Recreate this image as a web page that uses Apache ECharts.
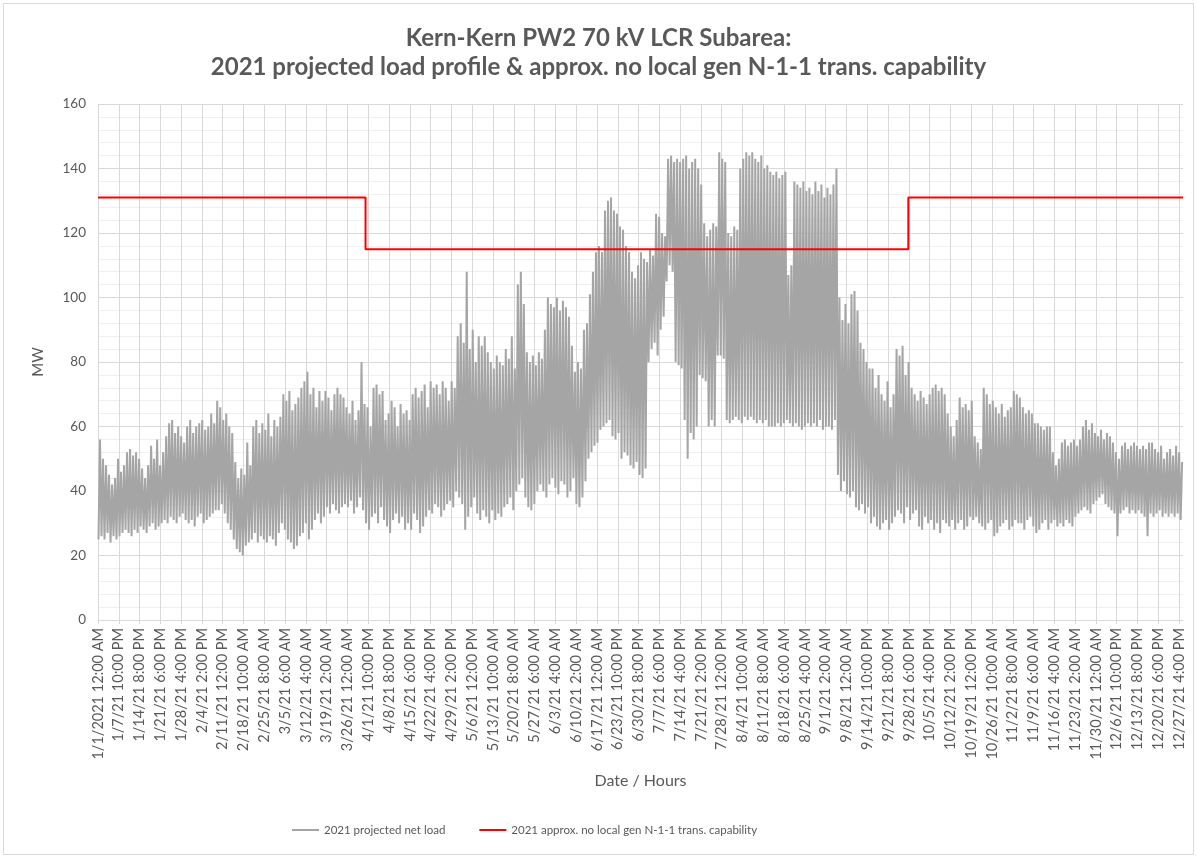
<!DOCTYPE html>
<html>
<head>
<meta charset="utf-8">
<script src="https://cdn.jsdelivr.net/npm/echarts@6/dist/echarts.min.js"></script>
<style>
  html, body { margin: 0; padding: 0; background: #fff; }
  #frame { position: absolute; left: 3px; top: 3px; width: 1191px; height: 852px; border: 1px solid #d9d9d9; box-sizing: border-box; }
  #chart { position: absolute; left: 0; top: 0; width: 1197px; height: 858px; }
</style>
</head>
<body>
<div id="frame"></div>
<div id="chart"></div>
<script>
// Daily peak and trough of the 2021 projected net load (MW), one value per day of the series, from 1/1 onward
const dailyPeak = [
  56,50,48,45,42,44,50,46,48,52, 53,51,52,50,47,44,48,54,50,56, 48,52,57,61,62,58,60,57,55,60,
  62,58,60,61,62,59,60,64,61,68, 66,62,64,60,58, 49,44,47,45,55,48, 60,62,58,61,59, 64,57,
  62,60,63, 70,68,71,65,67,69,72, 74,77,70,72,66,71,68, 71,69,65,70,72,70,69, 66,64,68,62,65,80,67,
  66,60,72,73,70,71,62, 64,68,66,60,67,64,65, 62,70,72,69,71,73,66, 74,72,73,70,74,72,68, 74,72,
  88,92, 86,108,84,90,80,88,85, 88,83,80,78,82,80, 79,84,81,88,78,104,108, 98,83,80,82,79,83,81, 90,
  100,98,97,100,96,99, 97,94,85,77,80,78, 90,92,101,108,114,116,114, 127,130,131,127,126,122, 121,116,114,108,106,
  110,114, 112,111,115,113, 126,125,120,119, 143,144,142,143, 142,143,144,140,142,143,140, 135,123,119,121, 123,122, 145,143,142, 120,
  119,122,121, 140,143,145,144,145,143,142,144, 140,141,139,138,139,137,138,139, 107,110, 136,135,134,136,133,134,132, 136,133,
  135,131,134, 132,135,140, 100,93,98,92, 101,102,96, 86,84,80,78, 78,72,76,70,68,74,66,70, 84,82,85,76,80,
  72,70,68,71,69,67,70,72, 73,71,72,70, 64,60,57,62, 69,66,67,65,68, 57,55,53, 72,70,67,68, 66,64,67,
  63,65,66, 71,70,69, 66,64,65,64,61, 61,60,59,60,60, 52,48,50, 55,56,54,55,56,54,56, 60,62,59,
  61, 58,57,59,56,58,57,55, 52,50, 54,55,53,54,55,54,53, 54,53,55, 55,53,52,54,50,52,53,51,54,52,49
];
const dailyLow = [
  25,26,25,27,24,26,25,26,27,28, 27,26,28,27,29,28,27,29,30,28, 29,30,31,30,32,31,30,32,33,31,
  30,31,29,32,33,30,31,32,33,34, 34,36,33,30,28, 25,22,21,20,23,24, 25,27,24,26,25, 24,26,
  25,23,27, 30,28,25,24,22,23,26, 27,30,25,28,31,33,30, 32,35,33,36,34,33,35, 36,35,37,33,35,38,34,
  30,28,32,33,30,35,31, 29,27,31,33,30,32,28, 30,28,33,31,27,29,32, 34,33,36,35,32,34,36, 37,35,
  40,38, 36,28,32,35,38,33,31, 34,32,30,34,31,33, 32,35,36,38,34,40,42, 44,38,35,34,36,40,42, 40,
  38,42,44,41,39,43, 42,38,40,44,36,35, 38,43,50,52,54,55,59, 60,61,62,57,56,58, 50,52,51,48,47,
  49,45, 44,47,80,84, 86,82,90,94, 105,110,108,80, 79,78,62,50,58,56,60, 76,75,74,60, 62,60, 82,82,81, 62,
  61,62,63, 62,61,63,62,63,62,61,62, 61,62,60,60,60,61,60,61, 62,61, 60,61,60,59,60,61,60, 61,60,
  62,59,60, 60,59,62, 45,40,43,39, 38,40,35, 34,36,33,35, 30,32,29,28,30,31,28,30, 32,34,33,30,35,
  31,33,34,29,28,32,30,31, 28,30,27,31, 30,29,31,28, 30,31,28,29,32, 31,32,30, 29,28,30,31, 26,27,29,
  30,31,28, 29,31,30, 30,28,31,32,29, 27,28,30,31,28, 30,31,29, 30,29,31,30,29,32,33, 34,35,34,
  33, 36,37,38,39,36,35,34, 33,26, 33,34,35,33,34,33,34, 33,32,26, 33,32,33,34,32,33,32,33,32,33,31
];
// Hour of day at which the trough and the peak occur
const lowHour = 4;
const peakHour = 16;

// Transmission capability (MW) and the hour indices where each level starts/ends
const capBreakHours = [0, 2136, 6470, 8663];
const capValues = [131, 115, 131];

const seriesNames = ['2021 projected net load', '2021 approx. no local gen N-1-1 trans. capability'];
const yTicks = { min: 0, max: 160, interval: 20 };
const labelEvery = 166; // hours between category labels

// Hourly categories. The series has no row for 2/28, so later dates run one day further.
const hourCount = dailyPeak.length * 24;
const skippedDay = 58; // day-of-year index of 2/28
function hourLabel(h) {
  let day = Math.floor(h / 24);
  if (day >= skippedDay) day += 1;
  const d = new Date(Date.UTC(2021, 0, 1) + (day * 24 + (h % 24)) * 3600000);
  const m = d.getUTCMonth() + 1, dd = d.getUTCDate();
  let hh = d.getUTCHours();
  const ampm = hh < 12 ? 'AM' : 'PM';
  hh = hh % 12; if (hh === 0) hh = 12;
  const yr = h === 0 ? '2021' : '21';
  return m + '/' + dd + '/' + yr + ' ' + hh + ':00 ' + ampm;
}
const hours = [];
for (let h = 0; h < hourCount; h++) hours.push(hourLabel(h));

const loadPoints = [];
for (let d = 0; d < dailyPeak.length; d++) {
  loadPoints.push([d * 24 + lowHour, dailyLow[d]]);
  loadPoints.push([d * 24 + peakHour, dailyPeak[d]]);
}
const capPoints = [];
for (let i = 0; i < capValues.length; i++) {
  capPoints.push([capBreakHours[i], capValues[i]]);
  capPoints.push([capBreakHours[i + 1], capValues[i]]);
}

const font = 'Lato, "Open Sans", sans-serif';
const txt = '#595959';
const grid = '#d9d9d9';
const chart = echarts.init(document.getElementById('chart'), null, { renderer: 'canvas' });
chart.setOption({
  animation: false,
  title: {
    text: 'Kern-Kern PW2 70 kV LCR Subarea:\n2021 projected load profile & approx. no local gen N-1-1 trans. capability',
    left: 'center', top: 19,
    textStyle: { fontFamily: font, fontSize: 24, fontWeight: 'bold', color: txt, lineHeight: 29 }
  },
  legend: {
    bottom: 17, left: 287, icon: 'rect', itemWidth: 27, itemHeight: 2, itemGap: 34,
    textStyle: { fontFamily: font, fontSize: 11.5, color: txt },
    data: seriesNames
  },
  grid: { left: 98, right: 14, top: 104, bottom: 238 },
  xAxis: {
    type: 'category', data: hours, boundaryGap: false,
    name: 'Date / Hours', nameLocation: 'middle', nameGap: 153,
    nameTextStyle: { fontFamily: font, fontSize: 16, color: txt },
    axisLine: { lineStyle: { color: grid } },
    axisTick: { show: true, interval: labelEvery - 1, length: 4, lineStyle: { color: grid } },
    axisLabel: { interval: labelEvery - 1, rotate: 90, fontFamily: font, fontSize: 14.5, color: txt, margin: 8 },
    splitLine: { show: true, interval: labelEvery - 1, lineStyle: { color: grid, width: 1 } }
  },
  yAxis: {
    type: 'value', min: yTicks.min, max: yTicks.max, interval: yTicks.interval,
    name: 'MW', nameLocation: 'middle', nameGap: 52, nameRotate: 90,
    nameTextStyle: { fontFamily: font, fontSize: 15, color: txt },
    axisLine: { show: false }, axisTick: { show: false },
    axisLabel: { fontFamily: font, fontSize: 13.5, color: txt, margin: 12 },
    splitLine: { lineStyle: { color: grid, width: 1 } },
    minorTick: { show: false, splitNumber: 5 },
    minorSplitLine: { show: true, lineStyle: { color: '#f0f0f0', width: 1 } }
  },
  series: [
    {
      name: seriesNames[0], type: 'line', data: loadPoints, showSymbol: false, symbol: 'none',
      lineStyle: { color: '#a5a5a5', width: 2 }, itemStyle: { color: '#a5a5a5' }
    },
    {
      name: seriesNames[1], type: 'line', data: capPoints, showSymbol: false, symbol: 'none',
      lineStyle: { color: '#ff0000', width: 2 }, itemStyle: { color: '#ff0000' }
    }
  ]
});
</script>
</body>
</html>
